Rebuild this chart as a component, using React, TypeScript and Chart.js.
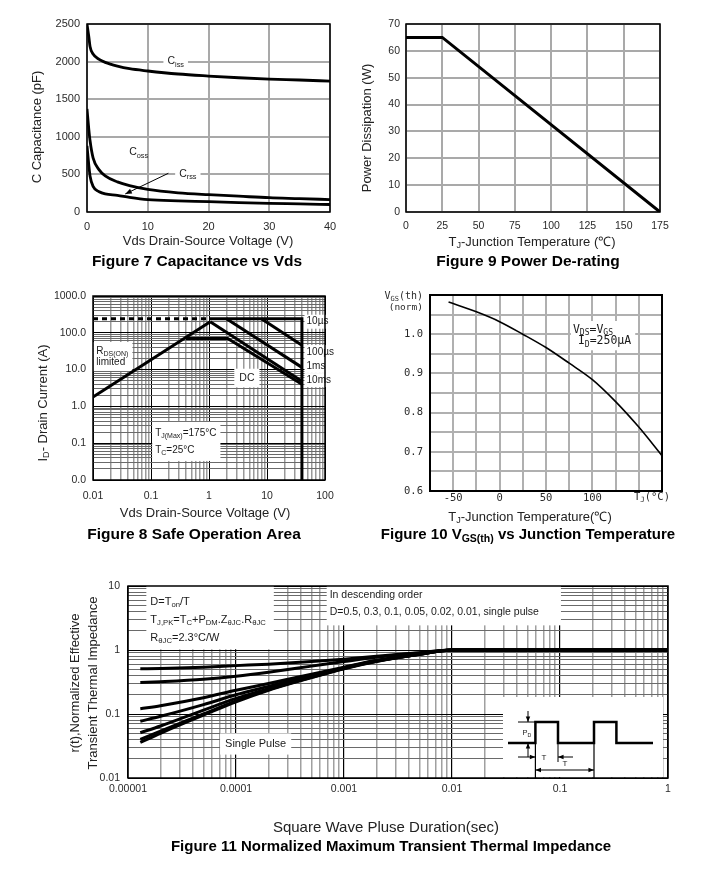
import React, { useEffect, useRef } from 'react';
import { Chart, registerables } from 'chart.js';

Chart.register(...registerables);

const SANS = '"Liberation Sans", Arial, Helvetica, sans-serif';
const MONO = '"DejaVu Sans Mono", "Liberation Mono", monospace';

// ---------- Figure 7: Capacitance vs Vds ----------
const capVds = [0, 0.3, 0.5, 1, 2, 3, 5, 7, 10, 15, 20, 25, 30, 35, 40];
const capCiss = [2500, 2330, 2200, 2100, 2030, 1990, 1940, 1905, 1875, 1835, 1808, 1785, 1768, 1755, 1740];
const capCoss = [1370, 1100, 950, 720, 560, 480, 400, 350, 300, 255, 230, 210, 190, 178, 165];
const capCrss = [880, 620, 480, 340, 270, 240, 222, 195, 165, 148, 138, 125, 115, 108, 100];
const capXTicks = [0, 10, 20, 30, 40];
const capYTicks = [0, 500, 1000, 1500, 2000, 2500];

// ---------- Figure 9: Power de-rating ----------
const pdTemp = [0, 25, 175];
const pdPower = [65, 65, 0];
const pdXTicks = [0, 25, 50, 75, 100, 125, 150, 175];
const pdYTicks = [0, 10, 20, 30, 40, 50, 60, 70];

// ---------- Figure 8: Safe operating area ----------
const soaXDecades = [0.01, 0.1, 1, 10, 100];
const soaXLabels = ['0.01', '0.1', '1', '10', '100'];
const soaYDecades = [0.01, 0.1, 1, 10, 100, 1000];
const soaYLabels = ['0.0', '0.1', '1.0', '10.0', '100.0', '1000.0'];
const soaRdsX = [0.01, 1.05];
const soaRdsY = [1.8, 200];
const soaLimitX = [0.01, 1.0];
const soaLimitY = [240, 240];
const soa10usX = [1.0, 40, 40];
const soa10usY = [240, 240, 0.01];
const soa100usX = [8, 40];
const soa100usY = [240, 46];
const soa1msX = [2, 40];
const soa1msY = [240, 11.5];
const soa10msX = [1.05, 40];
const soa10msY = [200, 4.8];
const soaDcX = [0.4, 2.1, 40];
const soaDcY = [70, 70, 4];

// ---------- Figure 10: Vgs(th) vs Tj ----------
const vgsTemp = [-55, -25, 0, 25, 50, 75, 100, 125, 150, 175];
const vgsNorm = [1.082, 1.057, 1.032, 1.0, 0.966, 0.926, 0.884, 0.828, 0.763, 0.69];
const vgsXTicks = [-75, -50, -25, 0, 25, 50, 75, 100, 125, 150, 175];
const vgsXLabeled = [-50, 0, 50, 100];
const vgsYTicks = [0.6, 0.65, 0.7, 0.75, 0.8, 0.85, 0.9, 0.95, 1.0, 1.05, 1.1];
const vgsYLabeled = [0.6, 0.7, 0.8, 0.9, 1.0];

// ---------- Figure 11: Transient thermal impedance ----------
const zthXDecades = [0.00001, 0.0001, 0.001, 0.01, 0.1, 1];
const zthXLabels = ['0.00001', '0.0001', '0.001', '0.01', '0.1', '1'];
const zthYDecades = [0.01, 0.1, 1, 10];
const zthYLabels = ['0.01', '0.1', '1', '10'];
const zthT = [1.3e-5, 2e-5, 5e-5, 1e-4, 2e-4, 5e-4, 1e-3, 2e-3, 5e-3, 1e-2, 1];
const zthD05 = [0.51, 0.515, 0.54, 0.57, 0.6, 0.66, 0.72, 0.8, 0.91, 1.0, 1.0];
const zthD03 = [0.31, 0.32, 0.35, 0.39, 0.45, 0.56, 0.66, 0.77, 0.9, 1.0, 1.0];
const zthD01 = [0.121, 0.135, 0.18, 0.235, 0.3, 0.42, 0.54, 0.69, 0.87, 1.0, 1.0];
const zthD005 = [0.077, 0.092, 0.14, 0.2, 0.27, 0.4, 0.53, 0.68, 0.86, 1.0, 1.0];
const zthD002 = [0.051, 0.065, 0.115, 0.175, 0.25, 0.385, 0.52, 0.67, 0.86, 1.0, 1.0];
const zthD001 = [0.04, 0.054, 0.1, 0.16, 0.24, 0.375, 0.515, 0.665, 0.855, 1.0, 1.0];
const zthSingle = [0.036, 0.05, 0.096, 0.155, 0.235, 0.37, 0.51, 0.66, 0.855, 1.0, 1.0];

// ---------- helpers ----------
type Seg = { t: string; sub?: boolean };
type TOpts = { size: number; family?: string; weight?: string; align?: 'left' | 'center' | 'right'; color?: string; bg?: [number, number] };

function parseRich(s: string): Seg[] {
  const out: Seg[] = [];
  const re = /_\{([^}]*)\}/g;
  let last = 0;
  let m: any;
  while ((m = re.exec(s))) {
    if (m.index > last) out.push({ t: s.slice(last, m.index) });
    out.push({ t: m[1], sub: true });
    last = m.index + m[0].length;
  }
  if (last < s.length) out.push({ t: s.slice(last) });
  return out;
}

function richWidth(ctx: any, s: string, o: TOpts) {
  const fam = o.family || SANS;
  const wt = o.weight || 'normal';
  let w = 0;
  for (const g of parseRich(s)) {
    ctx.font = `${wt} ${g.sub ? o.size * 0.7 : o.size}px ${fam}`;
    w += ctx.measureText(g.t).width;
  }
  return w;
}

function drawText(ctx: any, s: string, x: number, y: number, o: TOpts) {
  const fam = o.family || SANS;
  const wt = o.weight || 'normal';
  const segs = parseRich(s);
  const w = richWidth(ctx, s, o);
  let x0 = o.align === 'center' ? x - w / 2 : o.align === 'right' ? x - w : x;
  if (o.bg) {
    ctx.fillStyle = '#fff';
    ctx.fillRect(x0 - o.bg[0], y - o.size * 0.6 - o.bg[1], w + 2 * o.bg[0], o.size * 1.2 + 2 * o.bg[1]);
  }
  ctx.fillStyle = o.color || '#1a1a1a';
  ctx.textAlign = 'left';
  ctx.textBaseline = 'middle';
  for (const g of segs) {
    const sz = g.sub ? o.size * 0.7 : o.size;
    ctx.font = `${wt} ${sz}px ${fam}`;
    ctx.fillText(g.t, x0, g.sub ? y + o.size * 0.28 : y);
    x0 += ctx.measureText(g.t).width;
  }
}

function drawVText(ctx: any, s: string, x: number, y: number, o: TOpts) {
  ctx.save();
  ctx.translate(x, y);
  ctx.rotate(-Math.PI / 2);
  drawText(ctx, s, 0, 0, { ...o, align: 'center' });
  ctx.restore();
}

function textBlock(ctx: any, x: number, y: number, lines: [string, number][], gap: number, o: TOpts, pad: [number, number, number, number]) {
  let maxR = 0;
  for (const [s, dx] of lines) maxR = Math.max(maxR, dx + richWidth(ctx, s, o));
  const top = y - o.size * 0.6 - pad[1];
  const bottom = y + gap * (lines.length - 1) + o.size * 0.6 + pad[3];
  ctx.fillStyle = '#fff';
  ctx.fillRect(x - pad[0], top, maxR + pad[0] + pad[2], bottom - top);
  lines.forEach(([s, dx], i) => drawText(ctx, s, x + dx, y + gap * i, { ...o, align: 'left' }));
}

function arrow(ctx: any, x1: number, y1: number, x2: number, y2: number, head = 7, both = false, lw = 1) {
  ctx.save();
  ctx.strokeStyle = '#000';
  ctx.fillStyle = '#000';
  ctx.lineWidth = lw;
  ctx.beginPath();
  ctx.moveTo(x1, y1);
  ctx.lineTo(x2, y2);
  ctx.stroke();
  const tip = (xa: number, ya: number, xb: number, yb: number) => {
    const a = Math.atan2(yb - ya, xb - xa);
    ctx.beginPath();
    ctx.moveTo(xb, yb);
    ctx.lineTo(xb - head * Math.cos(a - 0.38), yb - head * Math.sin(a - 0.38));
    ctx.lineTo(xb - head * Math.cos(a + 0.38), yb - head * Math.sin(a + 0.38));
    ctx.closePath();
    ctx.fill();
  };
  tip(x1, y1, x2, y2);
  if (both) tip(x2, y2, x1, y1);
  ctx.restore();
}

function seg(ctx: any, x1: number, y1: number, x2: number, y2: number, lw: number) {
  ctx.lineWidth = lw;
  ctx.beginPath();
  ctx.moveTo(x1, y1);
  ctx.lineTo(x2, y2);
  ctx.stroke();
}

function frame(lw: number) {
  return (chart: any) => {
    const { ctx, chartArea: a } = chart;
    ctx.save();
    ctx.strokeStyle = '#000';
    ctx.lineWidth = lw;
    ctx.strokeRect(a.left, a.top, a.right - a.left, a.bottom - a.top);
    ctx.restore();
  };
}

function logTicks(decades: number[]): number[] {
  const out: number[] = [];
  for (let i = 0; i < decades.length - 1; i++) {
    for (let m = 1; m < 10; m++) out.push(Number((m * decades[i]).toPrecision(6)));
  }
  out.push(decades[decades.length - 1]);
  return out;
}

function decadeIndex(v: number, decades: number[]) {
  return decades.findIndex((d) => Math.abs(d - v) / d < 1e-6);
}

function series(xs: number[], ys: number[], width: number, extra: any = {}) {
  return {
    data: xs.map((x, i) => ({ x, y: ys[i] })),
    borderColor: '#000',
    backgroundColor: '#000',
    borderWidth: width,
    pointRadius: 0,
    fill: false,
    tension: 0,
    ...extra,
  };
}

type Area = { left: number; top: number; right: number; bottom: number };

function base(W: number, area: Area) {
  return {
    responsive: false,
    maintainAspectRatio: false,
    animation: false,
    events: [],
    layout: { padding: { left: 0, top: area.top, right: W - area.right, bottom: 0 } },
    plugins: { legend: { display: false }, tooltip: { enabled: false }, title: { display: false } },
  };
}

function makeScale(o: {
  axis: 'x' | 'y';
  type: 'linear' | 'logarithmic';
  min: number;
  max: number;
  ticks: number[];
  label: (v: number) => string;
  fit: number;
  pad: number;
  font: any;
  gridColor: any;
  gridWidth: any;
}) {
  return {
    type: o.type,
    min: o.min,
    max: o.max,
    position: o.axis === 'x' ? 'bottom' : 'left',
    afterBuildTicks: (s: any) => {
      s.ticks = o.ticks.map((v) => ({ value: v }));
    },
    afterFit: (s: any) => {
      if (o.axis === 'x') s.height = o.fit;
      else s.width = o.fit;
    },
    ticks: {
      autoSkip: false,
      maxRotation: 0,
      minRotation: 0,
      padding: o.pad,
      font: o.font,
      color: '#2a2a2a',
      callback: (v: any) => o.label(Number(v)),
    },
    grid: { drawTicks: false, color: o.gridColor, lineWidth: o.gridWidth },
    border: { display: false },
  };
}

// ---------- Figure 7 ----------
function fig7(canvas: HTMLCanvasElement) {
  const W = 350, H = 280;
  const area = { left: 87, top: 24, right: 330, bottom: 212 };
  const decor = {
    id: 'fig7decor',
    beforeDatasetsDraw(chart: any) {
      const { ctx, scales: { x, y } } = chart;
      ctx.save();
      drawText(ctx, 'C_{iss}', x.getPixelForValue(14.6), y.getPixelForValue(2000), { size: 10.5, align: 'center', bg: [4, 2] });
      drawText(ctx, 'C_{oss}', x.getPixelForValue(8.5), y.getPixelForValue(790), { size: 10.5, align: 'center' });
      drawText(ctx, 'C_{rss}', x.getPixelForValue(16.6), y.getPixelForValue(505), { size: 10.5, align: 'center', bg: [4, 2] });
      ctx.restore();
    },
    afterDatasetsDraw(chart: any) {
      const { ctx, scales: { x, y } } = chart;
      arrow(ctx, x.getPixelForValue(13.4), y.getPixelForValue(515), x.getPixelForValue(6.3), y.getPixelForValue(240), 7);
      frame(1.5)(chart);
    },
    afterDraw(chart: any) {
      const { ctx } = chart;
      ctx.save();
      drawVText(ctx, 'C Capacitance (pF)', 37, 127, { size: 13, color: '#222' });
      drawText(ctx, 'Vds Drain-Source Voltage (V)', 208, 241, { size: 13, align: 'center', color: '#222' });
      drawText(ctx, 'Figure 7 Capacitance vs Vds', 197, 262, { size: 15.5, weight: 'bold', align: 'center', color: '#000' });
      ctx.restore();
    },
  };
  return new Chart(canvas, {
    type: 'line',
    data: {
      datasets: [
        series(capVds, capCiss, 2.8, { cubicInterpolationMode: 'monotone' }),
        series(capVds, capCoss, 2.8, { cubicInterpolationMode: 'monotone' }),
        series(capVds, capCrss, 2.8, { cubicInterpolationMode: 'monotone' }),
      ],
    },
    options: {
      ...base(W, area),
      scales: {
        x: makeScale({ axis: 'x', type: 'linear', min: 0, max: 40, ticks: capXTicks, label: (v) => String(v), fit: H - area.bottom, pad: 8, font: { family: SANS, size: 11 }, gridColor: '#a9a9a9', gridWidth: 2 }),
        y: makeScale({ axis: 'y', type: 'linear', min: 0, max: 2500, ticks: capYTicks, label: (v) => String(v), fit: area.left, pad: 7, font: { family: SANS, size: 11 }, gridColor: '#a9a9a9', gridWidth: 2 }),
      },
    } as any,
    plugins: [decor],
  } as any);
}

// ---------- Figure 9 ----------
function fig9(canvas: HTMLCanvasElement) {
  const W = 354, H = 280;
  const area = { left: 56, top: 24, right: 310, bottom: 212 };
  const decor = {
    id: 'fig9decor',
    afterDatasetsDraw: frame(1.5),
    afterDraw(chart: any) {
      const { ctx } = chart;
      ctx.save();
      drawVText(ctx, 'Power Dissipation (W)', 17, 128, { size: 13, color: '#222' });
      drawText(ctx, 'T_{J}-Junction Temperature (℃)', 182, 242, { size: 13, align: 'center', color: '#222' });
      drawText(ctx, 'Figure 9 Power De-rating', 178, 262, { size: 15.5, weight: 'bold', align: 'center', color: '#000' });
      ctx.restore();
    },
  };
  return new Chart(canvas, {
    type: 'line',
    data: { datasets: [series(pdTemp, pdPower, 3)] },
    options: {
      ...base(W, area),
      scales: {
        x: makeScale({ axis: 'x', type: 'linear', min: 0, max: 175, ticks: pdXTicks, label: (v) => String(v), fit: H - area.bottom, pad: 8, font: { family: SANS, size: 10.5 }, gridColor: '#a9a9a9', gridWidth: 2 }),
        y: makeScale({ axis: 'y', type: 'linear', min: 0, max: 70, ticks: pdYTicks, label: (v) => String(v), fit: area.left, pad: 6, font: { family: SANS, size: 10.5 }, gridColor: '#a9a9a9', gridWidth: 2 }),
      },
    } as any,
    plugins: [decor],
  } as any);
}

// ---------- Figure 8 ----------
function fig8(canvas: HTMLCanvasElement) {
  const W = 350, H = 270;
  const area = { left: 93, top: 16, right: 325, bottom: 200 };
  const decor = {
    id: 'fig8decor',
    beforeDatasetsDraw(chart: any) {
      const { ctx, scales: { x, y } } = chart;
      ctx.save();
      const px = (v: number) => x.getPixelForValue(v);
      const py = (v: number) => y.getPixelForValue(v);
      textBlock(ctx, px(0.0114), py(32), [['R_{DS(ON)}', 0], ['limited', 0]], 11, { size: 10 }, [3, 3, 4, 3]);
      drawText(ctx, 'DC', px(4.5), py(5.9), { size: 10.5, align: 'center', bg: [5, 3] });
      textBlock(ctx, px(0.118), py(0.19), [['T_{J(Max)}=175°C', 0], ['T_{C}=25°C', 0]], 17, { size: 10 }, [3, 5, 4, 5]);
      const xr = px(48);
      drawText(ctx, '10µs', xr, py(200), { size: 10, bg: [2, 1] });
      drawText(ctx, '100µs', xr, py(30), { size: 10, bg: [2, 1] });
      drawText(ctx, '1ms', xr, py(12.6), { size: 10, bg: [2, 1] });
      drawText(ctx, '10ms', xr, py(5.2), { size: 10, bg: [2, 1] });
      ctx.restore();
    },
    afterDatasetsDraw: frame(1.5),
    afterDraw(chart: any) {
      const { ctx } = chart;
      ctx.save();
      drawVText(ctx, 'I_{D}- Drain Current (A)', 43, 123, { size: 13, color: '#222' });
      drawText(ctx, 'Vds Drain-Source Voltage (V)', 205, 233, { size: 13, align: 'center', color: '#222' });
      drawText(ctx, 'Figure 8 Safe Operation Area', 194, 255, { size: 15.5, weight: 'bold', align: 'center', color: '#000' });
      ctx.restore();
    },
  };
  const gx = (c: any) => (decadeIndex(c.tick?.value, soaXDecades) >= 0 ? '#000' : '#9a9a9a');
  const gy = (c: any) => (decadeIndex(c.tick?.value, soaYDecades) >= 0 ? '#000' : '#6a6a6a');
  return new Chart(canvas, {
    type: 'line',
    data: {
      datasets: [
        series(soaRdsX, soaRdsY, 3),
        series(soaLimitX, soaLimitY, 3, { borderDash: [5, 4] }),
        series(soa10usX, soa10usY, 3),
        series(soa100usX, soa100usY, 3),
        series(soa1msX, soa1msY, 3),
        series(soa10msX, soa10msY, 3),
        series(soaDcX, soaDcY, 3),
      ],
    },
    options: {
      ...base(W, area),
      scales: {
        x: makeScale({ axis: 'x', type: 'logarithmic', min: 0.01, max: 100, ticks: logTicks(soaXDecades), label: (v) => { const i = decadeIndex(v, soaXDecades); return i >= 0 ? soaXLabels[i] : ''; }, fit: H - area.bottom, pad: 10, font: { family: SANS, size: 10.5 }, gridColor: gx, gridWidth: (c: any) => (decadeIndex(c.tick?.value, soaXDecades) >= 0 ? 1 : 1.5) }),
        y: makeScale({ axis: 'y', type: 'logarithmic', min: 0.01, max: 1000, ticks: logTicks(soaYDecades), label: (v) => { const i = decadeIndex(v, soaYDecades); return i >= 0 ? soaYLabels[i] : ''; }, fit: area.left, pad: 7, font: { family: SANS, size: 10.5 }, gridColor: gy, gridWidth: 1 }),
      },
    } as any,
    plugins: [decor],
  } as any);
}

// ---------- Figure 10 ----------
function fig10(canvas: HTMLCanvasElement) {
  const W = 354, H = 270;
  const area = { left: 80, top: 15, right: 312, bottom: 211 };
  const decor = {
    id: 'fig10decor',
    beforeDatasetsDraw(chart: any) {
      const { ctx, scales: { x, y } } = chart;
      ctx.save();
      textBlock(ctx, x.getPixelForValue(79), y.getPixelForValue(1.011), [['V_{DS}=V_{GS}', 0], ['I_{D}=250µA', 5]], 11.5, { size: 11.5, family: MONO }, [2, 2, 4, 2]);
      ctx.restore();
    },
    afterDatasetsDraw: frame(2),
    afterDraw(chart: any) {
      const { ctx, chartArea: a } = chart;
      ctx.save();
      drawText(ctx, 'V_{GS}(th)', a.left - 7, a.top + 1, { size: 10, family: MONO, align: 'right', color: '#2a2a2a' });
      drawText(ctx, '(norm)', a.left - 7, a.top + 13, { size: 9.5, family: MONO, align: 'right', color: '#2a2a2a' });
      drawText(ctx, 'T_{J}(°C)', a.right - 10, a.bottom + 6.5, { size: 10.5, family: MONO, align: 'center', color: '#2a2a2a' });
      drawText(ctx, 'T_{J}-Junction Temperature(℃)', 180, 237, { size: 13, align: 'center', color: '#222' });
      drawText(ctx, 'Figure 10 V_{GS(th)} vs Junction Temperature', 178, 255, { size: 15, weight: 'bold', align: 'center', color: '#000' });
      ctx.restore();
    },
  };
  return new Chart(canvas, {
    type: 'line',
    data: { datasets: [series(vgsTemp, vgsNorm, 1.6, { cubicInterpolationMode: 'monotone' })] },
    options: {
      ...base(W, area),
      scales: {
        x: makeScale({ axis: 'x', type: 'linear', min: -75, max: 175, ticks: vgsXTicks, label: (v) => (vgsXLabeled.includes(v) ? String(v) : ''), fit: H - area.bottom, pad: 1, font: { family: MONO, size: 10.5 }, gridColor: '#b0b0b0', gridWidth: 2 }),
        y: makeScale({ axis: 'y', type: 'linear', min: 0.6, max: 1.1, ticks: vgsYTicks, label: (v) => (vgsYLabeled.some((l) => Math.abs(l - v) < 1e-6) ? v.toFixed(1) : ''), fit: area.left, pad: 7, font: { family: MONO, size: 10.5 }, gridColor: '#b0b0b0', gridWidth: 2 }),
      },
    } as any,
    plugins: [decor],
  } as any);
}

// ---------- Figure 11 ----------
function fig11(canvas: HTMLCanvasElement) {
  const W = 704, H = 312;
  const area = { left: 128, top: 26, right: 668, bottom: 218 };
  const decor = {
    id: 'fig11decor',
    beforeDatasetsDraw(chart: any) {
      const { ctx, scales: { x, y }, chartArea: a } = chart;
      ctx.save();
      const px = (v: number) => x.getPixelForValue(v);
      const py = (v: number) => y.getPixelForValue(v);
      textBlock(ctx, px(1.61e-5), py(5.69), [['D=T_{on}/T', 0], ['T_{J,PK}=T_{C}+P_{DM}.Z_{θJC}.R_{θJC}', 0], ['R_{θJC}=2.3°C/W', 0]], 18, { size: 11 }, [4, 10, 8, 5]);
      textBlock(ctx, px(7.37e-4), py(7.22), [['In descending order', 0], ['D=0.5, 0.3, 0.1, 0.05, 0.02, 0.01, single pulse', 0]], 17, { size: 10.5 }, [3, 5, 22, 7]);
      drawText(ctx, 'Single Pulse', px(1.52e-4), py(0.034), { size: 11, align: 'center', bg: [5, 4] });
      // pulse diagram inset
      const R = a.right, B = a.bottom;
      ctx.fillStyle = '#fff';
      ctx.fillRect(R - 165, B - 81, 160, 80);
      ctx.strokeStyle = '#000';
      const lo = B - 35, hi = B - 56;
      ctx.lineWidth = 2.5;
      ctx.beginPath();
      ctx.moveTo(R - 160, lo);
      ctx.lineTo(R - 132.6, lo);
      ctx.lineTo(R - 132.6, hi);
      ctx.lineTo(R - 110, hi);
      ctx.lineTo(R - 110, lo);
      ctx.lineTo(R - 74, lo);
      ctx.lineTo(R - 74, hi);
      ctx.lineTo(R - 51.6, hi);
      ctx.lineTo(R - 51.6, lo);
      ctx.lineTo(R - 15, lo);
      ctx.stroke();
      seg(ctx, R - 132.6, lo, R - 132.6, B, 1.2);
      seg(ctx, R - 74, lo, R - 74, B, 1.2);
      seg(ctx, R - 110, lo, R - 110, B - 16, 1);
      seg(ctx, R - 150, hi, R - 132.6, hi, 1);
      arrow(ctx, R - 140, B - 67, R - 140, hi, 6);
      arrow(ctx, R - 140, B - 21, R - 140, lo, 6);
      drawText(ctx, 'P_{D}', R - 141, B - 45, { size: 7.5, align: 'center' });
      arrow(ctx, R - 150, B - 21, R - 132.6, B - 21, 6);
      arrow(ctx, R - 95, B - 21, R - 110, B - 21, 6);
      drawText(ctx, 'T', R - 124, B - 20, { size: 8, align: 'center' });
      arrow(ctx, R - 132.6, B - 8, R - 74, B - 8, 6, true);
      drawText(ctx, 'T', R - 103, B - 14, { size: 8, align: 'center' });
      ctx.restore();
    },
    afterDatasetsDraw: frame(1.5),
    afterDraw(chart: any) {
      const { ctx } = chart;
      ctx.save();
      drawVText(ctx, 'r(t),Normalized Effective', 75, 123, { size: 13, color: '#222' });
      drawVText(ctx, 'Transient Thermal Impedance', 93, 123, { size: 13, color: '#222' });
      drawText(ctx, 'Square Wave Pluse Duration(sec)', 386, 268, { size: 15, align: 'center', color: '#222' });
      drawText(ctx, 'Figure 11 Normalized Maximum Transient Thermal Impedance', 391, 287, { size: 15, weight: 'bold', align: 'center', color: '#000' });
      ctx.restore();
    },
  };
  const gx = (c: any) => (decadeIndex(c.tick?.value, zthXDecades) >= 0 ? '#000' : '#a0a0a0');
  const gy = (c: any) => (decadeIndex(c.tick?.value, zthYDecades) >= 0 ? '#000' : '#6a6a6a');
  const mono = { cubicInterpolationMode: 'monotone' };
  return new Chart(canvas, {
    type: 'line',
    data: {
      datasets: [
        series(zthT, zthD05, 3, mono),
        series(zthT, zthD03, 3, mono),
        series(zthT, zthD01, 3, mono),
        series(zthT, zthD005, 3, mono),
        series(zthT, zthD002, 3, mono),
        series(zthT, zthD001, 3, mono),
        series(zthT, zthSingle, 3, mono),
      ],
    },
    options: {
      ...base(W, area),
      scales: {
        x: makeScale({ axis: 'x', type: 'logarithmic', min: 0.00001, max: 1, ticks: logTicks(zthXDecades), label: (v) => { const i = decadeIndex(v, zthXDecades); return i >= 0 ? zthXLabels[i] : ''; }, fit: H - area.bottom, pad: 5, font: { family: SANS, size: 10.5 }, gridColor: gx, gridWidth: (c: any) => (decadeIndex(c.tick?.value, zthXDecades) >= 0 ? 1.2 : 1.5) }),
        y: makeScale({ axis: 'y', type: 'logarithmic', min: 0.01, max: 10, ticks: logTicks(zthYDecades), label: (v) => { const i = decadeIndex(v, zthYDecades); return i >= 0 ? zthYLabels[i] : ''; }, fit: area.left, pad: 8, font: { family: SANS, size: 10.5 }, gridColor: gy, gridWidth: 1 }),
      },
    } as any,
    plugins: [decor],
  } as any);
}

const PANELS = [
  { left: 0, top: 0, width: 350, height: 280, make: fig7 },
  { left: 350, top: 0, width: 354, height: 280, make: fig9 },
  { left: 0, top: 280, width: 350, height: 270, make: fig8 },
  { left: 350, top: 280, width: 354, height: 270, make: fig10 },
  { left: 0, top: 560, width: 704, height: 312, make: fig11 },
];

function Panel({ p }: { p: any }) {
  const ref = useRef<HTMLCanvasElement>(null);
  useEffect(() => {
    const chart = p.make(ref.current as HTMLCanvasElement);
    return () => chart.destroy();
  }, [p]);
  return (
    <canvas
      ref={ref}
      width={p.width}
      height={p.height}
      style={{ position: 'absolute', left: p.left, top: p.top, width: p.width, height: p.height }}
    />
  );
}

export default function App() {
  return (
    <div style={{ position: 'absolute', left: 0, top: 0, width: 704, height: 872, background: '#fff', overflow: 'hidden' }}>
      {PANELS.map((p, i) => (
        <Panel key={i} p={p} />
      ))}
    </div>
  );
}
